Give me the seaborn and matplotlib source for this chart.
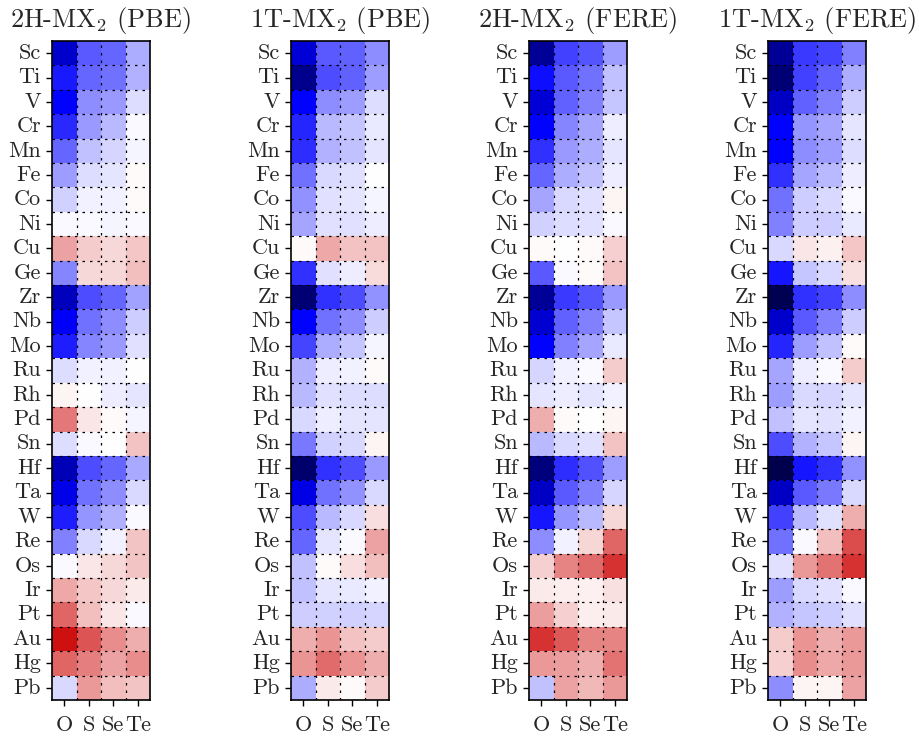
import numpy as np
import pandas as pd
import matplotlib
matplotlib.use("Agg")
import matplotlib.pyplot as plt
from matplotlib.colors import LinearSegmentedColormap
import seaborn as sns

# Metals (rows) and chalcogens (columns)
metals = ["Sc", "Ti", "V", "Cr", "Mn", "Fe", "Co", "Ni", "Cu", "Ge", "Zr", "Nb", "Mo",
          "Ru", "Rh", "Pd", "Sn", "Hf", "Ta", "W", "Re", "Os", "Ir", "Pt", "Au", "Hg", "Pb"]
chalcogens = ["O", "S", "Se", "Te"]

titles = ["2H-MX$_2$ (PBE)", "1T-MX$_2$ (PBE)", "2H-MX$_2$ (FERE)", "1T-MX$_2$ (FERE)"]

# Normalised formation energies, one row per metal: O, S, Se, Te
h2_pbe = [
    [-0.64, -0.325, -0.30, -0.16],
    [-0.45, -0.30, -0.28, -0.15],
    [-0.50, -0.22, -0.20, -0.065],
    [-0.42, -0.20, -0.14, -0.015],
    [-0.30, -0.125, -0.085, -0.02],
    [-0.19, -0.065, -0.05, 0.02],
    [-0.09, -0.03, -0.025, 0.02],
    [-0.015, -0.015, -0.02, -0.015],
    [0.36, 0.20, 0.15, 0.22],
    [-0.24, 0.15, 0.15, 0.25],
    [-0.68, -0.35, -0.30, -0.185],
    [-0.51, -0.275, -0.225, -0.10],
    [-0.44, -0.24, -0.20, -0.06],
    [-0.065, -0.025, -0.025, 0.0],
    [0.04, 0.0, -0.035, -0.05],
    [0.53, 0.10, 0.02, -0.02],
    [-0.065, -0.01, 0.0, 0.24],
    [-0.70, -0.35, -0.30, -0.165],
    [-0.56, -0.275, -0.225, -0.075],
    [-0.44, -0.21, -0.15, -0.015],
    [-0.25, -0.075, -0.025, 0.23],
    [-0.015, 0.10, 0.15, 0.23],
    [0.34, 0.22, 0.15, 0.08],
    [0.60, 0.25, 0.10, -0.01],
    [0.93, 0.67, 0.45, 0.32],
    [0.60, 0.50, 0.36, 0.45],
    [-0.075, 0.40, 0.25, 0.23],
]

t1_pbe = [
    [-0.61, -0.325, -0.31, -0.225],
    [-0.82, -0.35, -0.31, -0.19],
    [-0.50, -0.225, -0.19, -0.065],
    [-0.425, -0.14, -0.115, -0.04],
    [-0.41, -0.15, -0.125, -0.05],
    [-0.275, -0.075, -0.06, 0.0],
    [-0.215, -0.06, -0.05, -0.02],
    [-0.175, -0.06, -0.06, -0.035],
    [0.02, 0.34, 0.24, 0.24],
    [-0.40, -0.06, -0.035, 0.14],
    [-0.89, -0.40, -0.35, -0.215],
    [-0.50, -0.275, -0.225, -0.10],
    [-0.36, -0.16, -0.11, -0.02],
    [-0.15, -0.035, -0.03, 0.02],
    [-0.14, -0.06, -0.07, -0.065],
    [-0.075, -0.035, -0.05, -0.05],
    [-0.26, -0.09, -0.075, 0.04],
    [-0.91, -0.40, -0.35, -0.20],
    [-0.57, -0.275, -0.215, -0.075],
    [-0.35, -0.14, -0.075, 0.13],
    [-0.30, -0.05, -0.01, 0.36],
    [-0.125, 0.02, 0.13, 0.25],
    [-0.125, -0.05, -0.04, -0.025],
    [-0.10, -0.09, -0.09, -0.085],
    [0.32, 0.42, 0.24, 0.20],
    [0.42, 0.58, 0.42, 0.32],
    [-0.16, 0.08, 0.02, 0.20],
]

h2_fere = [
    [-0.79, -0.375, -0.335, -0.19],
    [-0.475, -0.325, -0.275, -0.125],
    [-0.61, -0.31, -0.25, -0.11],
    [-0.50, -0.24, -0.175, -0.035],
    [-0.40, -0.20, -0.16, -0.05],
    [-0.30, -0.16, -0.125, -0.035],
    [-0.175, -0.075, -0.06, 0.04],
    [-0.09, -0.065, -0.06, -0.015],
    [0.02, 0.0, 0.02, 0.18],
    [-0.325, -0.015, 0.02, 0.24],
    [-0.79, -0.39, -0.335, -0.20],
    [-0.63, -0.31, -0.25, -0.11],
    [-0.50, -0.25, -0.175, -0.04],
    [-0.085, -0.03, -0.015, 0.20],
    [-0.05, -0.035, -0.05, -0.025],
    [0.32, 0.02, 0.0, 0.04],
    [-0.14, -0.075, -0.06, 0.24],
    [-0.86, -0.41, -0.34, -0.19],
    [-0.66, -0.325, -0.25, -0.085],
    [-0.46, -0.21, -0.14, 0.15],
    [-0.225, -0.025, 0.16, 0.60],
    [0.18, 0.48, 0.58, 0.80],
    [0.08, 0.07, 0.06, 0.12],
    [0.38, 0.18, 0.07, 0.08],
    [0.80, 0.65, 0.48, 0.48],
    [0.40, 0.38, 0.32, 0.55],
    [-0.125, 0.36, 0.28, 0.40],
]

t1_fere = [
    [-0.79, -0.39, -0.36, -0.25],
    [-0.89, -0.375, -0.31, -0.16],
    [-0.66, -0.31, -0.25, -0.10],
    [-0.50, -0.21, -0.175, -0.05],
    [-0.50, -0.225, -0.19, -0.07],
    [-0.40, -0.175, -0.14, -0.035],
    [-0.275, -0.10, -0.075, -0.015],
    [-0.25, -0.10, -0.10, -0.04],
    [-0.075, 0.10, 0.06, 0.22],
    [-0.46, -0.11, -0.075, 0.12],
    [-0.98, -0.40, -0.375, -0.225],
    [-0.64, -0.325, -0.25, -0.10],
    [-0.425, -0.19, -0.125, 0.02],
    [-0.175, -0.035, -0.015, 0.20],
    [-0.19, -0.075, -0.085, -0.05],
    [-0.125, -0.05, -0.06, -0.025],
    [-0.35, -0.15, -0.115, 0.04],
    [-1.00, -0.46, -0.40, -0.215],
    [-0.66, -0.325, -0.26, -0.075],
    [-0.375, -0.14, -0.06, 0.32],
    [-0.275, -0.01, 0.25, 0.70],
    [-0.06, 0.40, 0.55, 0.80],
    [-0.19, -0.075, -0.06, -0.015],
    [-0.15, -0.11, -0.10, -0.06],
    [0.20, 0.42, 0.32, 0.40],
    [0.18, 0.45, 0.34, 0.40],
    [-0.225, 0.04, 0.04, 0.36],
]

panels = [h2_pbe, t1_pbe, h2_fere, t1_fere]

# Diverging map: navy -> blue -> white -> dark red
cmap = LinearSegmentedColormap.from_list(
    "energy", [(0.0, "#00004d"), (0.25, "#0000ff"), (0.5, "#ffffff"), (1.0, "#cc0000")])

sns.set_style("white")
plt.rcParams["font.family"] = ["cmr10", "DejaVu Serif"]
plt.rcParams["mathtext.fontset"] = "cm"
plt.rcParams["axes.unicode_minus"] = False

W, H = 919, 738
fig = plt.figure(figsize=(W / 100, H / 100), dpi=100)

lefts = [52, 291, 529, 768]
top, bottom, width = 41, 700, 98

for left, data, title in zip(lefts, panels, titles):
    ax = fig.add_axes([left / W, 1 - bottom / H, width / W, (bottom - top) / H])
    df = pd.DataFrame(data, index=metals, columns=chalcogens)
    sns.heatmap(df, ax=ax, cmap=cmap, vmin=-1, vmax=1, cbar=False,
                linewidths=0, square=False)
    # dotted cell separators
    for i in range(1, len(metals)):
        ax.axhline(i, color="black", lw=0.9, ls=(0, (2, 4)))
    for j in range(1, len(chalcogens)):
        ax.axvline(j, color="black", lw=0.9, ls=(0, (2, 4)))
    for s in ax.spines.values():
        s.set_visible(True)
        s.set_color("black")
        s.set_linewidth(1.2)
    ax.tick_params(axis="both", direction="out", length=4, width=1,
                   color="black", labelsize=16, pad=4,
                   left=True, bottom=True)
    ax.tick_params(axis="x", pad=7)
    ax.set_yticklabels(metals, rotation=0)
    ax.set_xticklabels(chalcogens, rotation=0)
    ax.set_xlabel("")
    ax.set_ylabel("")
    ax.set_title(title, fontsize=19, pad=10)

fig.savefig("out.png", dpi=100)
